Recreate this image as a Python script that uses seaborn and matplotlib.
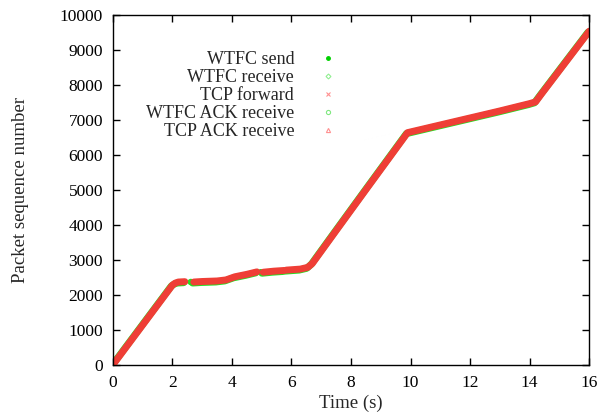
import matplotlib
matplotlib.use('Agg')
import matplotlib.pyplot as plt
import matplotlib.transforms as mtransforms
from matplotlib.lines import Line2D
import seaborn as sns
import pandas as pd

# trace, split where the flow has gaps
seg_ids = [0] * 5 + [1] * 7 + [2] * 3 + [3] * 14
times = [0.0, 2.0, 2.1, 2.2, 2.42,
         2.72, 3.0, 3.5, 3.8, 4.1, 4.5, 4.84,
         5.05, 5.4, 5.75,
         5.82, 6.3, 6.55, 6.7, 7.5, 8.5, 9.9, 10.0, 11.3, 13.0, 14.0, 14.2, 14.4, 16.0]
seqs = [0, 2280, 2340, 2370, 2380,
        2370, 2385, 2400, 2430, 2520, 2590, 2660,
        2650, 2680, 2700,
        2710, 2740, 2790, 2900, 3840, 5010, 6640, 6660, 6920, 7260, 7470, 7520, 7750, 9540]

# lone WTFC send packets inside the gaps
dot_times = [2.62, 4.97]
dot_seqs = [2370, 2650]

labels = ['WTFC send', 'WTFC receive', 'TCP forward', 'WTFC ACK receive', 'TCP ACK receive']

df = pd.DataFrame({'time': times, 'seq': seqs, 'seg': seg_ids})

sns.set_style('ticks')
plt.rcParams['font.family'] = ['Liberation Serif', 'DejaVu Serif']
plt.rcParams['font.size'] = 12.5

green = '#22e022'
red = '#ef3e36'

fig = plt.figure(figsize=(6, 4.19), dpi=100)
ax = fig.add_axes([0.188, 0.129, 0.794, 0.835])

shift = mtransforms.offset_copy(ax.transData, fig=fig, x=-1.2, y=-1.0, units='dots')
sns.lineplot(data=df, x='time', y='seq', units='seg', estimator=None, sort=False,
             color=green, lw=5, ax=ax, transform=shift, solid_capstyle='round')
sns.scatterplot(x=dot_times, y=dot_seqs, color=green, s=22, edgecolor='none', ax=ax)
sns.lineplot(data=df, x='time', y='seq', units='seg', estimator=None, sort=False,
             color=red, lw=5, ax=ax, solid_capstyle='round')

ax.set_xlim(0, 16)
ax.set_ylim(0, 10000)
ax.set_xticks(range(0, 17, 2))
ax.set_yticks(range(0, 10001, 1000))
ax.tick_params(direction='in', top=True, right=True, length=5, width=1, colors='black',
               labelsize=12.5, pad=7)
for s in ax.spines.values():
    s.set_color('black')
    s.set_linewidth(1)
ax.set_xlabel('Time (s)', fontsize=13.5, labelpad=3)
ax.set_ylabel('Packet sequence number', fontsize=13.5, labelpad=22)

handles = [
    Line2D([], [], ls='none', marker='o', ms=2.5, color='#00d000'),
    Line2D([], [], ls='none', marker='D', ms=2.5, mfc='none', mec='#90ee90', mew=0.8),
    Line2D([], [], ls='none', marker='x', ms=3, color='#ff9090', mew=0.8),
    Line2D([], [], ls='none', marker='o', ms=3, mfc='none', mec='#80e880', mew=0.8),
    Line2D([], [], ls='none', marker='^', ms=3, mfc='none', mec='#ff9090', mew=0.8),
]
ax.legend(handles, labels, markerfirst=False, frameon=False, fontsize=13,
          loc='upper right', bbox_to_anchor=(0.504, 0.917), labelspacing=0.05,
          handlelength=2.0, handletextpad=0.85, borderaxespad=0)

fig.savefig('out.png', dpi=100)
